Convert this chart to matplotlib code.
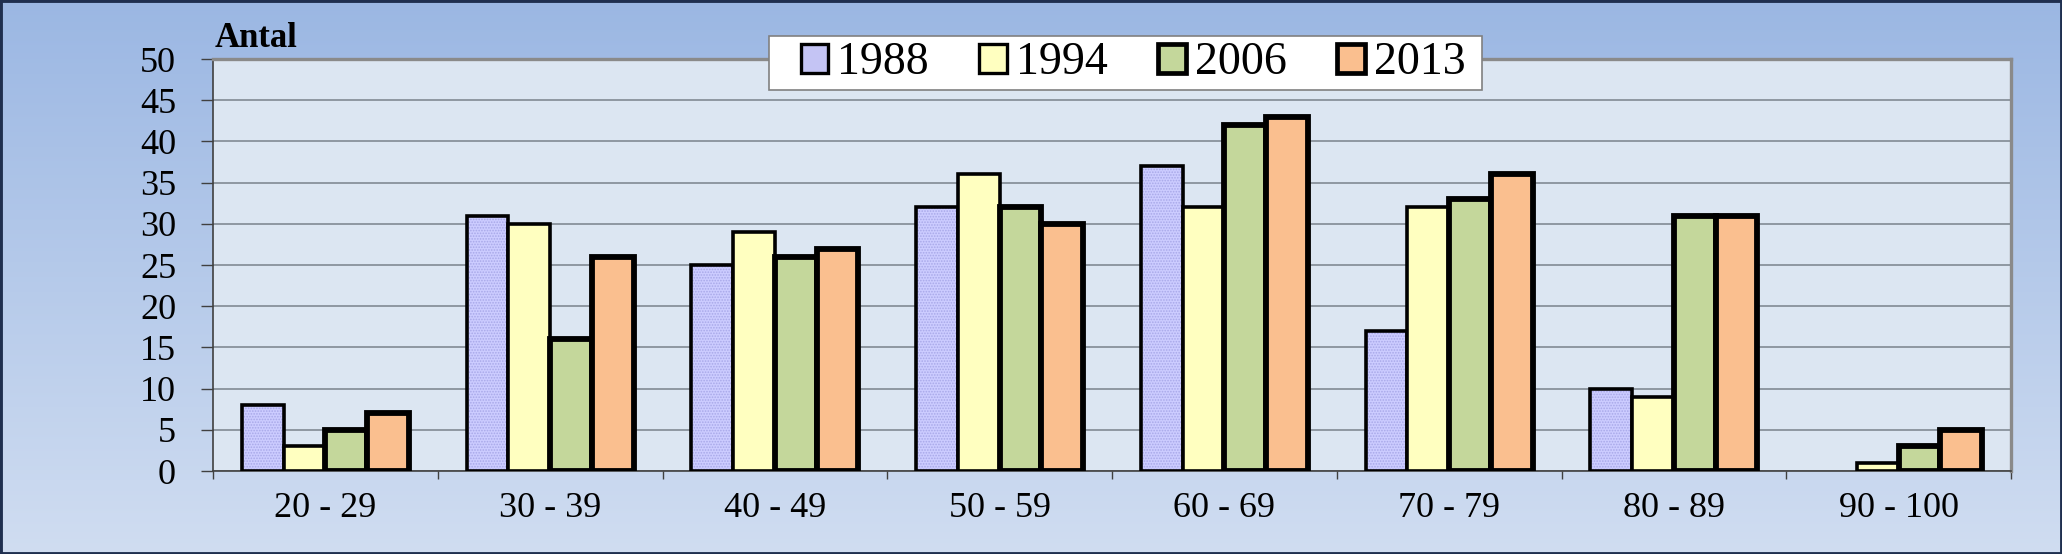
import numpy as np
import matplotlib.pyplot as plt
from matplotlib.patches import Rectangle, Patch

categories = ['20 - 29', '30 - 39', '40 - 49', '50 - 59', '60 - 69', '70 - 79', '80 - 89', '90 - 100']
years = ['1988', '1994', '2006', '2013']
v1988 = [8, 31, 25, 32, 37, 17, 10, 0]
v1994 = [3, 30, 29, 36, 32, 32, 9, 1]
v2006 = [5, 16, 26, 32, 42, 33, 31, 3]
v2013 = [7, 26, 27, 30, 43, 36, 31, 5]
yticks = list(range(0, 51, 5))

plt.rcParams['font.family'] = ['Liberation Serif', 'DejaVu Serif']
plt.rcParams['hatch.linewidth'] = 0.8

W, H = 2062, 554
fig = plt.figure(figsize=(W / 100, H / 100), dpi=100)

# background gradient
bg = fig.add_axes([0, 0, 1, 1], zorder=-10)
g = np.linspace(0, 1, 256)[:, None, None]
top = np.array([155, 183, 227]) / 255
bot = np.array([208, 221, 241]) / 255
img = top[None, None, :] * (1 - g) + bot[None, None, :] * g
img = np.repeat(img, 4, axis=1)
bg.imshow(img, aspect='auto', extent=[0, 1, 0, 1], origin='upper')
bg.set_xlim(0, 1); bg.set_ylim(0, 1)
bg.set_axis_off()
bg.add_patch(Rectangle((0, 0), 1, 1, transform=bg.transAxes, fill=False,
                       edgecolor='#1F2F4F', lw=3.5, clip_on=False))

l, r, b, t = 213 / W, 2011 / W, 1 - 471 / H, 1 - 59 / H
ax = fig.add_axes([l, b, r - l, t - b])
ax.set_facecolor('#DCE6F2')

x = np.arange(len(categories))
w = 0.186
c1988, c1994, c2006, c2013 = '#CCCCFF', '#FFFFC0', '#C4D79B', '#FABF8F'

ax.bar(x - 1.5 * w, v1988, w, color=c1988, hatch='......', edgecolor='#A8A8E8', lw=0, zorder=3)
ax.bar(x - 1.5 * w, v1988, w, fill=False, edgecolor='black',
       lw=[2.6 if v > 0 else 0 for v in v1988], zorder=4)
ax.bar(x - 0.5 * w, v1994, w, color=c1994, edgecolor='black',
       lw=[2.6 if v > 0 else 0 for v in v1994], zorder=4)
ax.bar(x + 0.5 * w, v2006, w, color=c2006, edgecolor='black',
       lw=[4.2 if v > 0 else 0 for v in v2006], zorder=5)
ax.bar(x + 1.5 * w, v2013, w, color=c2013, edgecolor='black',
       lw=[4.2 if v > 0 else 0 for v in v2013], zorder=6)

ax.set_xlim(-0.5, len(categories) - 0.5)
ax.set_ylim(0, 50)
ax.set_yticks(yticks)
ax.set_yticklabels([str(v) for v in yticks])
ax.yaxis.grid(True, color='#7A828C', lw=1.1, zorder=1)
ax.set_axisbelow(True)

ax.set_xticks(x)
ax.set_xticklabels(categories)
ax.set_xticks(np.arange(-0.5, len(categories)), minor=True)
ax.tick_params(axis='x', which='major', length=0, pad=15, labelsize=26)
ax.tick_params(axis='x', which='minor', length=6, width=1.0, color='#404040')
ax.tick_params(axis='y', length=8.6, width=1.0, color='#404040', pad=18, labelsize=26)

for s in ('top', 'right'):
    ax.spines[s].set_color('#8A8A8A')
    ax.spines[s].set_linewidth(2.4)
for s in ('left', 'bottom'):
    ax.spines[s].set_color('#404040')
    ax.spines[s].set_linewidth(1.2)

fig.text(215 / W, 1 - 47 / H, 'Antal', fontsize=25, fontweight='bold', ha='left', va='baseline')

# legend box
box = Rectangle((769 / W, 1 - 90 / H), 713 / W, 54 / H, transform=fig.transFigure,
                facecolor='white', edgecolor='#808080', lw=1.2, zorder=15)
fig.add_artist(box)

handles = [Patch(facecolor='#C4C4F4', edgecolor='black', lw=2.4),
           Patch(facecolor=c1994, edgecolor='black', lw=2.4),
           Patch(facecolor=c2006, edgecolor='black', lw=3.4),
           Patch(facecolor=c2013, edgecolor='black', lw=3.4)]
leg = fig.legend(handles, years, loc='center', bbox_to_anchor=(1133 / W, 1 - 63 / H),
                 ncol=4, fontsize=33, frameon=False,
                 handlelength=0.6, handleheight=0.6, handletextpad=0.2,
                 columnspacing=1.1, borderpad=0.15, borderaxespad=0)
leg.set_zorder(20)

fig.savefig('out.png', dpi=100)
